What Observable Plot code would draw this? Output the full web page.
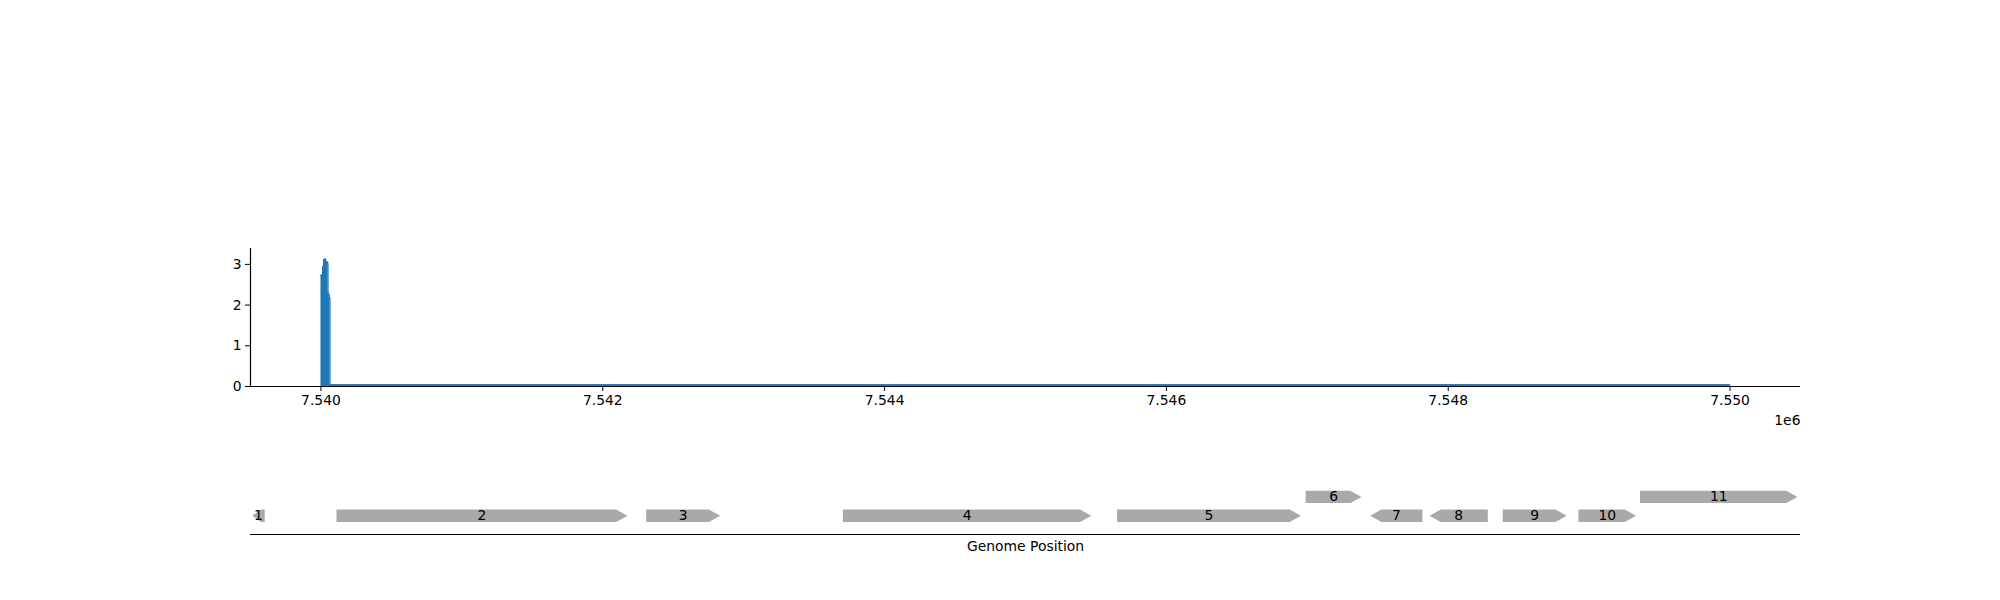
<!DOCTYPE html>
<html>
<head>
<meta charset="utf-8">
<script src="https://cdn.jsdelivr.net/npm/d3@7"></script>
<script src="https://cdn.jsdelivr.net/npm/@observablehq/plot@0.6"></script>
<style>
  html, body { margin: 0; padding: 0; background: #fff; }
  #wrap { position: relative; width: 2000px; height: 600px; background: #fff; font-family: "DejaVu Sans", sans-serif; }
  #topPanel, #bottomPanel { position: absolute; left: 0; }
  #topPanel { top: 0; }
  #bottomPanel { top: 440px; }
</style>
</head>
<body>
<div id="wrap"><div id="topPanel"></div><div id="bottomPanel"></div></div>
<script>
// ---- data ----
const xLimits = [7539500, 7550500];
const yLimits = [0, 3.39];
const xTicks = [7540000, 7542000, 7544000, 7546000, 7548000, 7550000];
const yTicks = [0, 1, 2, 3];

// coverage (position, depth)
const covPos = [7540000, 7540005, 7540012, 7540019, 7540026, 7540033, 7540040, 7540047, 7540050, 7540054, 7540059, 7540064, 7550000];
const covVal = [2.73, 2.75, 2.94, 3.12, 3.13, 3.00, 3.06, 3.02, 2.30, 2.25, 2.18, 0.04, 0.04];

// genes
const geneLabel  = ["1", "2", "3", "4", "5", "6", "7", "8", "9", "10", "11"];
const geneStart  = [7539512, 7540110, 7542308, 7543704, 7545650, 7546988, 7547446, 7547867, 7548387, 7548924, 7549361];
const geneEnd    = [7539601, 7542175, 7542833, 7545467, 7546955, 7547385, 7547817, 7548281, 7548841, 7549333, 7550479];
const geneStrand = [-1, 1, 1, 1, 1, 1, -1, -1, 1, 1, 1];
const geneRow    = [1, 1, 1, 1, 1, 2, 1, 1, 1, 1, 2];

const font = "DejaVu Sans, sans-serif";
const fs = "13.9px";
const blue = "#1f77b4";
const grey = "#a9a9a9";

// ---- coverage panel ----
const cov = covPos.map((p, i) => ({x: p, y: covVal[i]}));

const covChart = Plot.plot({
  width: 2000,
  height: 440,
  marginLeft: 250,
  marginRight: 200,
  marginTop: 248,
  marginBottom: 54,
  style: {fontFamily: font, fontSize: fs, color: "#000", background: "transparent"},
  x: {domain: xLimits},
  y: {domain: yLimits},
  marks: [
    Plot.areaY(cov, {x: "x", y: "y", curve: "step-after", fill: blue}),
    Plot.lineY(cov, {x: "x", y: "y", curve: "step-after", stroke: blue, strokeWidth: 1.2}),
    Plot.ruleY([yLimits[0]], {stroke: "#000", strokeWidth: 1.2}),
    Plot.ruleX([xLimits[0]], {stroke: "#000", strokeWidth: 1.2}),
    Plot.axisX({ticks: xTicks, tickSize: 5, tickPadding: 4, tickFormat: d => (d / 1e6).toFixed(3), label: null, fontSize: fs}),
    Plot.axisY({ticks: yTicks, tickSize: 5, tickPadding: 4, tickFormat: d => String(d), label: null, fontSize: fs}),
    Plot.text(["1e6"], {frameAnchor: "bottom-right", textAnchor: "end", lineAnchor: "middle", dy: 34, fontSize: fs, fill: "#000"})
  ]
});
document.getElementById("topPanel").appendChild(covChart);

// ---- gene panel ----
const halfH = 0.33;
const pts = [];
geneStart.forEach((s, i) => {
  const e = geneEnd[i];
  const y = geneRow[i];
  const len = e - s;
  const head = Math.min(80, len * 0.7);
  let poly;
  if (geneStrand[i] > 0) {
    poly = [[s, y + halfH], [e - head, y + halfH], [e, y], [e - head, y - halfH], [s, y - halfH], [s, y + halfH]];
  } else {
    poly = [[e, y + halfH], [s + head, y + halfH], [s, y], [s + head, y - halfH], [e, y - halfH], [e, y + halfH]];
  }
  poly.forEach(([px, py]) => pts.push({id: i, x: px, y: py}));
});
const labels = geneLabel.map((t, i) => ({t, x: (geneStart[i] + geneEnd[i]) / 2, y: geneRow[i]}));

const geneChart = Plot.plot({
  width: 2000,
  height: 160,
  marginLeft: 250,
  marginRight: 200,
  marginTop: 0,
  marginBottom: 66,
  style: {fontFamily: font, fontSize: fs, color: "#000", background: "transparent"},
  x: {domain: xLimits, axis: null},
  y: {domain: [0, 5], axis: null},
  marks: [
    Plot.line(pts, {x: "x", y: "y", z: "id", fill: grey, stroke: "none", curve: "linear"}),
    Plot.text(labels, {x: "x", y: "y", text: "t", fill: "#000", fontSize: fs, lineAnchor: "middle"}),
    Plot.ruleY([0], {stroke: "#000", strokeWidth: 1.2}),
    Plot.text(["Genome Position"], {frameAnchor: "bottom", lineAnchor: "middle", dy: 12, fontSize: fs, fill: "#000"})
  ]
});
document.getElementById("bottomPanel").appendChild(geneChart);
</script>
</body>
</html>
